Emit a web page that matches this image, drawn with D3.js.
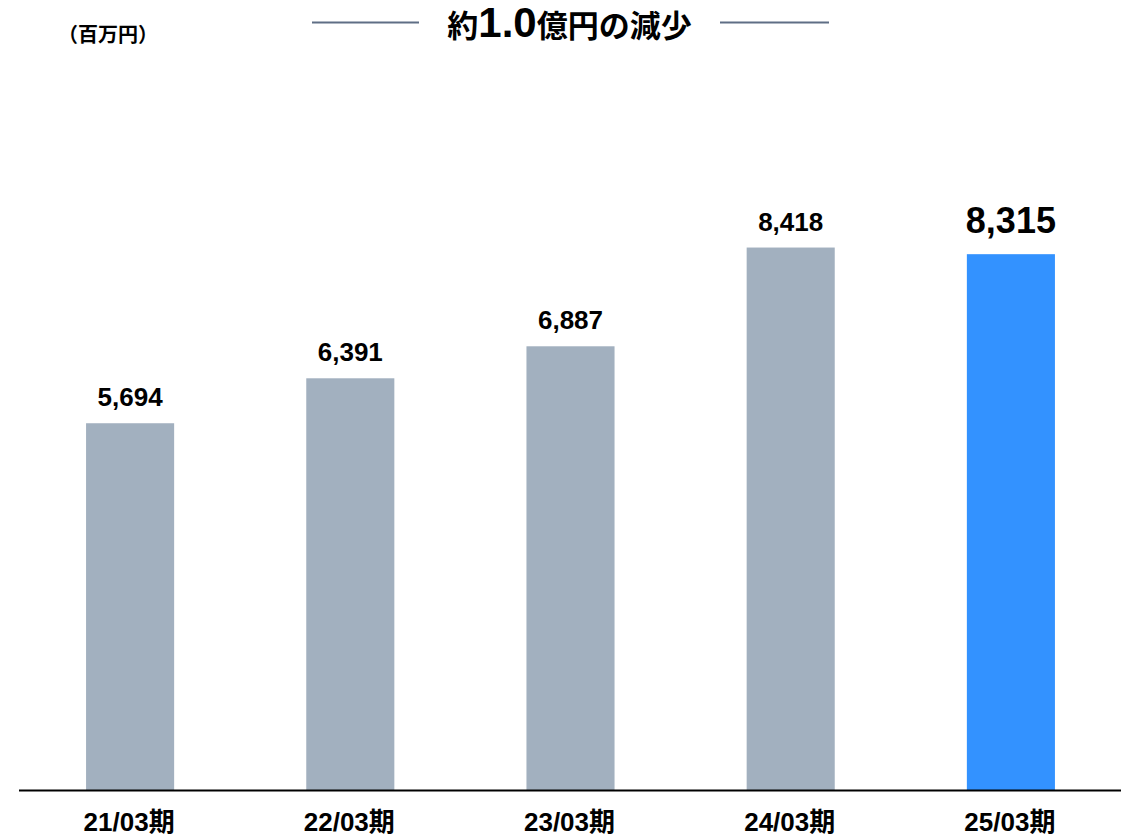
<!DOCTYPE html>
<html>
<head>
<meta charset="utf-8">
<script src="https://cdn.jsdelivr.net/npm/d3@7"></script>
<style>
  html, body { margin: 0; padding: 0; background: #ffffff; }
  svg { display: block; }
  text { font-family: "Liberation Sans", Arial, "Noto Sans CJK JP", sans-serif; font-weight: bold; fill: #000; }
</style>
</head>
<body>
<svg id="chart" width="1127" height="839"></svg>
<script>
// Fiscal periods and values (millions of yen)
const periods = ["21/03期", "22/03期", "23/03期", "24/03期", "25/03期"];
const values = [5694, 6391, 6887, 8418, 8315];
const unitLabel = "（百万円）";
const titleParts = [
  { text: "約", big: false },
  { text: "1.0", big: true },
  { text: "億円の減少", big: false }
];

const W = 1127, H = 839;
const svg = d3.select("#chart");

const baseY = 790.5;
const x = d3.scaleBand()
  .domain(periods)
  .range([20, 1121])
  .paddingInner(0.6)
  .paddingOuter(0.3);

const y = d3.scaleLinear()
  .domain([0, 12000])
  .range([baseY, baseY - 12000 * 0.0645]);

const grey = "#a2b0bf";
const blue = "#3392ff";
const lastIdx = periods.length - 1;

// Bars
svg.append("g").selectAll("rect")
  .data(periods)
  .join("rect")
  .attr("x", d => x(d))
  .attr("y", (d, i) => y(values[i]))
  .attr("width", x.bandwidth())
  .attr("height", (d, i) => y(0) - y(values[i]))
  .attr("fill", (d, i) => i === lastIdx ? blue : grey);

// Value labels
const fmt = d3.format(",");
svg.append("g").selectAll("text")
  .data(periods)
  .join("text")
  .attr("x", d => x(d) + x.bandwidth() / 2)
  .attr("y", (d, i) => y(values[i]) - (i === lastIdx ? 21 : 17))
  .attr("text-anchor", "middle")
  .style("font-size", (d, i) => i === lastIdx ? "36px" : "26px")
  .text((d, i) => fmt(values[i]));

// Category axis along the baseline
const axis = d3.axisBottom(x).tickSize(0).tickPadding(0);
const axisG = svg.append("g")
  .attr("transform", `translate(0,${baseY})`)
  .call(axis);
axisG.select(".domain").remove();
axisG.selectAll(".tick text")
  .attr("x", -1)
  .attr("y", 40)
  .attr("dy", null)
  .style("font-size", "26px")
  .style("font-family", "\"Liberation Sans\", Arial, \"Noto Sans CJK JP\", sans-serif")
  .style("font-weight", "bold")
  .attr("fill", "#000");

svg.append("line")
  .attr("x1", 19).attr("x2", 1121)
  .attr("y1", baseY).attr("y2", baseY)
  .attr("stroke", "#000")
  .attr("stroke-width", 2);

// Unit label
svg.append("text")
  .attr("x", 108)
  .attr("y", 42)
  .attr("text-anchor", "middle")
  .style("font-size", "20px")
  .style("font-family", "\"Noto Sans CJK JP\", sans-serif")
  .text(unitLabel);

// Headline with side rules
const title = svg.append("text")
  .attr("x", 569.5)
  .attr("y", 37)
  .attr("text-anchor", "middle");
title.selectAll("tspan")
  .data(titleParts)
  .join("tspan")
  .style("font-size", d => d.big ? "42px" : "31px")
  .style("font-family", d => d.big ? "\"Liberation Sans\", Arial, sans-serif" : "\"Noto Sans CJK JP\", sans-serif")
  .text(d => d.text);

const ruleColor = "#5f6e85";
[[312, 419], [720, 829]].forEach(([a, b]) => {
  svg.append("line")
    .attr("x1", a).attr("x2", b)
    .attr("y1", 22.5).attr("y2", 22.5)
    .attr("stroke", ruleColor)
    .attr("stroke-width", 2);
});
</script>
</body>
</html>
